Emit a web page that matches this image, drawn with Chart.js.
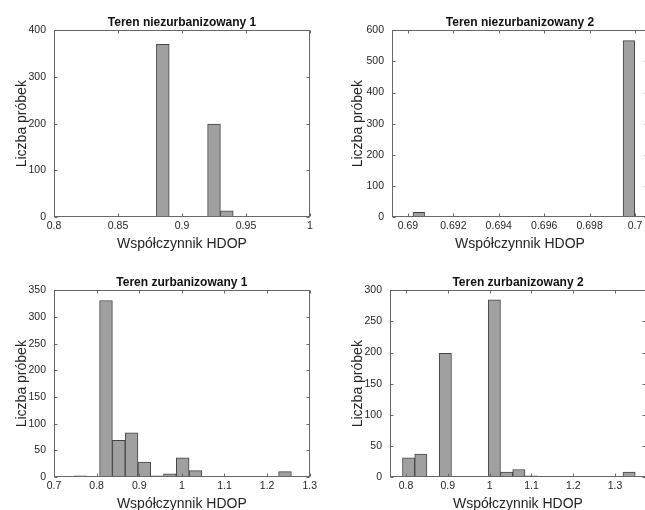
<!DOCTYPE html>
<html>
<head>
<meta charset="utf-8">
<script src="https://cdn.jsdelivr.net/npm/chart.js@4.4.1/dist/chart.umd.min.js"></script>
<style>
  html, body { margin: 0; padding: 0; background: #fff; overflow: hidden; }
  body { width: 645px; height: 510px; position: relative; }
  .panel { position: absolute; height: 255px; }
</style>
</head>
<body>
<div class="panel" style="left:0;top:0;width:320px"><canvas id="h1"></canvas></div>
<div class="panel" style="left:320px;top:0;width:340px"><canvas id="h2"></canvas></div>
<div class="panel" style="left:0;top:260px;width:320px"><canvas id="h3"></canvas></div>
<div class="panel" style="left:320px;top:260px;width:340px"><canvas id="h4"></canvas></div>
<script>
// bin centres and counts
const bins1 = [0.885, 0.895, 0.905, 0.915, 0.925, 0.935];
const counts1 = [370, 0, 0, 0, 199, 13];

const bins2 = [0.69048, 0.69099, 0.69151, 0.69202, 0.69254, 0.69305, 0.69356, 0.69408, 0.69459, 0.69511,
               0.69562, 0.69613, 0.69665, 0.69716, 0.69768, 0.69819, 0.69870, 0.69922, 0.69973];
const counts2 = [15, 0, 0, 0, 0, 0, 0, 0, 0, 0, 0, 0, 0, 0, 0, 0, 0, 0, 567];

const bins3 = [0.762, 0.792, 0.822, 0.852, 0.882, 0.912, 0.942, 0.972, 1.002, 1.032,
               1.062, 1.092, 1.122, 1.152, 1.182, 1.212, 1.242];
const counts3 = [2, 0, 331, 69, 83, 28, 2, 6, 36, 12, 0, 0, 0, 0, 0, 0, 10];

const bins4 = [0.8062, 0.8355, 0.8648, 0.8941, 0.9234, 0.9527, 0.982, 1.0113, 1.0406, 1.0699,
               1.0992, 1.1285, 1.1578, 1.1871, 1.2164, 1.2457, 1.275, 1.3043, 1.3336];
const counts4 = [31, 37, 0, 199, 0, 0, 0, 285, 8, 12, 2, 0, 0, 0, 0, 0, 0, 0, 8];

// tick labels
const xTicks1 = [0.8, 0.85, 0.9, 0.95, 1];
const yTicks1 = [0, 100, 200, 300, 400];
const xTicks2 = [0.69, 0.692, 0.694, 0.696, 0.698, 0.7];
const yTicks2 = [0, 100, 200, 300, 400, 500, 600];
const xTicks3 = [0.7, 0.8, 0.9, 1, 1.1, 1.2, 1.3];
const yTicks3 = [0, 50, 100, 150, 200, 250, 300, 350];
const xTicks4 = [0.8, 0.9, 1, 1.1, 1.2, 1.3];
const yTicks4 = [0, 50, 100, 150, 200, 250, 300];

const FONT = "'Liberation Sans', Arial, Helvetica, sans-serif";
const TXT = '#262626';

// matlab style box with inward ticks
const boxTicks = {
  id: 'boxTicks',
  afterDatasetsDraw(chart) {
    const { ctx, chartArea: a, scales: { x, y } } = chart;
    const l = Math.round(a.left) + 0.5, r = Math.round(a.right) - 0.5;
    const t = Math.round(a.top) + 0.5, b = Math.round(a.bottom) - 0.5;
    ctx.save();
    ctx.strokeStyle = '#686868';
    ctx.lineWidth = 1;
    ctx.beginPath();
    x.ticks.forEach(tk => {
      const px = Math.round(x.getPixelForValue(tk.value)) + 0.5;
      ctx.moveTo(px, b); ctx.lineTo(px, b - 3);
      ctx.moveTo(px, t); ctx.lineTo(px, t + 3);
    });
    y.ticks.forEach(tk => {
      const py = Math.round(y.getPixelForValue(tk.value)) + 0.5;
      ctx.moveTo(l, py); ctx.lineTo(l + 3, py);
      ctx.moveTo(r, py); ctx.lineTo(r - 3, py);
    });
    ctx.stroke();
    ctx.strokeRect(l, t, r - l, b - t);
    ctx.restore();
  }
};

function histogram(id, title, bins, counts, xr, xTicks, yTicks, yWidth, yTitlePad, padRight) {
  new Chart(document.getElementById(id), {
    type: 'bar',
    data: {
      datasets: [{
        data: bins.map((c, i) => ({ x: c, y: counts[i] })),
        backgroundColor: '#a0a0a0',
        borderColor: '#454545',
        borderWidth: 1,
        borderSkipped: false,
        categoryPercentage: 1,
        barPercentage: 1
      }]
    },
    options: {
      responsive: true,
      maintainAspectRatio: false,
      animation: false,
      layout: { padding: { left: 0, right: padRight, top: 0, bottom: 0 } },
      plugins: {
        legend: { display: false },
        tooltip: { enabled: false },
        title: {
          display: true,
          text: title,
          fullSize: false,
          color: '#111',
          font: { family: FONT, size: 12, weight: 'bold' },
          padding: { top: 15, bottom: 1 }
        }
      },
      scales: {
        x: {
          type: 'linear',
          min: xr[0],
          max: xr[1],
          offset: false,
          grid: { display: false, drawTicks: false, offset: false },
          border: { display: false },
          afterBuildTicks: s => { s.ticks = xTicks.map(v => ({ value: v })); },
          afterFit: s => { s.height = 38; },
          ticks: {
            color: TXT,
            padding: 3,
            maxRotation: 0,
            autoSkip: false,
            font: { family: FONT, size: 10.5 },
            callback: v => String(v)
          },
          title: {
            display: true,
            text: 'Współczynnik HDOP',
            color: TXT,
            font: { family: FONT, size: 14 },
            padding: { top: 0, bottom: 2 }
          }
        },
        y: {
          min: 0,
          max: yTicks[yTicks.length - 1],
          grid: { display: false, drawTicks: false },
          border: { display: false },
          afterBuildTicks: s => { s.ticks = yTicks.map(v => ({ value: v })); },
          afterFit: s => { s.width = yWidth; },
          ticks: {
            color: TXT,
            padding: 8,
            font: { family: FONT, size: 10.5 }
          },
          title: {
            display: true,
            text: 'Liczba próbek',
            color: TXT,
            font: { family: FONT, size: 14 },
            padding: { top: yTitlePad, bottom: 0 }
          }
        }
      }
    },
    plugins: [boxTicks]
  });
}

histogram('h1', 'Teren niezurbanizowany 1', bins1, counts1, [0.8, 1], xTicks1, yTicks1, 54, 13.5, 10);
histogram('h2', 'Teren niezurbanizowany 2', bins2, counts2, [0.6893, 0.70057], xTicks2, yTicks2, 72, 29.5, 12);
histogram('h3', 'Teren zurbanizowany 1', bins3, counts3, [0.7, 1.3], xTicks3, yTicks3, 54, 13.5, 10);
histogram('h4', 'Teren zurbanizowany 2', bins4, counts4, [0.7617, 1.374], xTicks4, yTicks4, 70, 29.5, 14);
</script>
</body>
</html>
